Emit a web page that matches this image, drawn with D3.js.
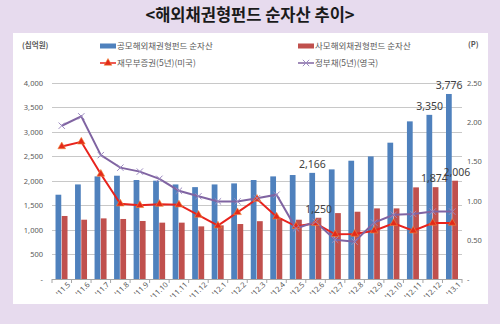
<!DOCTYPE html>
<html><head><meta charset="utf-8">
<script src="https://cdn.jsdelivr.net/npm/d3@7"></script>
<style>
html,body{margin:0;padding:0;background:#E7DBEE;}
svg{display:block;font-family:"Noto Sans CJK KR","Noto Sans",sans-serif;}
</style></head>
<body>
<svg id="c" width="500" height="324"></svg>
<script>
const categories = ["'11.5","'11.6","'11.7","'11.8","'11.9","'11.10","'11.11","'11.12","'12.1","'12.2","'12.3","'12.4","'12.5","'12.6","'12.7","'12.8","'12.9","'12.10","'12.11","'12.12","'13.1"];
const publicFund = [1720,1930,2094,2108,2020,2006,1930,1875,1930,1951,2020,2094,2122,2166,2237,2414,2502,2782,3217,3350,3776];
const privateFund = [1286,1210,1237,1225,1184,1150,1150,1074,1095,1122,1180,1235,1210,1250,1345,1373,1441,1441,1870,1874,2006];
const usTreasury5y = [1.69,1.75,1.34,0.96,0.94,0.955,0.948,0.816,0.68,0.85,1.02,0.795,0.672,0.71,0.57,0.574,0.616,0.71,0.616,0.714,0.714];
const ukGilt5y = [1.955,2.075,1.58,1.42,1.37,1.278,1.126,1.055,0.99,0.99,1.03,1.075,0.645,0.73,0.5,0.476,0.72,0.82,0.83,0.86,0.86];
const leftTicks = [0,500,1000,1500,2000,2500,3000,3500,4000];
const rightTicks = [0,0.5,1.0,1.5,2.0,2.5];
const labeled = [
  {series:"public", cat:"'12.6"},{series:"public", cat:"'12.12"},{series:"public", cat:"'13.1"},
  {series:"private", cat:"'12.6"},{series:"private", cat:"'12.12"},{series:"private", cat:"'13.1"}
];
const names = ["공모해외채권형펀드 순자산","사모해외채권형펀드 순자산","재무부증권(5년)(미국)","정부채(5년)(영국)"];

const C = {blue:"#4F81BD", red:"#C0504D", line:"#E8231D", purple:"#8064A2", grid:"#C8C8C8", text:"#595959"};
const svg = d3.select("#c");

// panel
svg.append("rect").attr("x",13).attr("y",33).attr("width",475).attr("height",271).attr("fill","#fff");
svg.append("text").attr("x",250).attr("y",21).attr("text-anchor","middle")
  .attr("font-size",16.5).attr("font-weight","bold").attr("fill","#1a1a1a").text("<해외채권형펀드 순자산 추이>");

const x = d3.scaleBand().domain(categories).range([52,462]).paddingInner(0.36).paddingOuter(0.18);
const xs = d3.scaleBand().domain(["public","private"]).range([0,x.bandwidth()]);
const yL = d3.scaleLinear().domain([0,4000]).range([279,83]);
const yR = d3.scaleLinear().domain([0,2.5]).range([279,83]);

// grid
svg.append("g").selectAll("line").data(leftTicks.filter(d=>d>0)).join("line")
  .attr("x1",52).attr("x2",462).attr("y1",d=>yL(d)).attr("y2",d=>yL(d))
  .attr("stroke",C.grid).attr("stroke-width",1).attr("shape-rendering","crispEdges");

// left axis
const gl = svg.append("g").attr("transform","translate(52,0)")
  .call(d3.axisLeft(yL).tickValues(leftTicks).tickSize(0).tickPadding(9)
    .tickFormat(d=>d===0?"-":d3.format(",")(d)));
gl.select(".domain").remove();
gl.selectAll("text").attr("font-size",7.5).attr("fill",C.text).attr("font-family","Noto Sans, sans-serif");

// right axis
const gr = svg.append("g").attr("transform","translate(462,0)")
  .call(d3.axisRight(yR).tickValues(rightTicks).tickSize(0).tickPadding(5)
    .tickFormat(d=>d===0?"-":d3.format(".2f")(d)));
gr.select(".domain").remove();
gr.selectAll("text").attr("font-size",7.5).attr("fill",C.text).attr("font-family","Noto Sans, sans-serif");

// bars
const bars = svg.append("g");
bars.selectAll(".pb").data(categories).join("rect")
  .attr("x",(d)=>x(d)+xs("public")).attr("width",xs.bandwidth()-0.5)
  .attr("y",(d,i)=>yL(publicFund[i])).attr("height",(d,i)=>yL(0)-yL(publicFund[i])).attr("fill",C.blue);
bars.selectAll(".rb").data(categories).join("rect").attr("class","rb")
  .attr("x",(d)=>x(d)+xs("private")).attr("width",xs.bandwidth()-0.5)
  .attr("y",(d,i)=>yL(privateFund[i])).attr("height",(d,i)=>yL(0)-yL(privateFund[i])).attr("fill",C.red);

// x axis
const gx = svg.append("g").attr("transform","translate(0,279)")
  .call(d3.axisBottom(x).tickSize(0).tickPadding(6));
gx.select(".domain").attr("stroke","#A6A6A6").attr("d","M52,0.5H462");
gx.selectAll(".tick text").attr("font-size",7.5).attr("fill",C.text).attr("font-family","Noto Sans, sans-serif")
  .attr("text-anchor","end").attr("dy","0.35em").attr("transform","translate(3,0) rotate(-45)");
// small tick marks between categories
svg.append("g").selectAll("line").data(categories.concat(["end"])).join("line")
  .attr("x1",(d,i)=>i<categories.length? x(d)-x.step()*x.paddingInner()/2 : x(categories[categories.length-1])+x.bandwidth()+x.step()*x.paddingInner()/2)
  .attr("x2",function(){return d3.select(this).attr("x1");})
  .attr("y1",279).attr("y2",283).attr("stroke","#A6A6A6");

// lines
const centre = d=>x(d)+x.bandwidth()/2;
const lineUS = d3.line().x((d,i)=>centre(categories[i])).y(d=>yR(d));
svg.append("path").datum(usTreasury5y).attr("d",lineUS).attr("fill","none").attr("stroke",C.line).attr("stroke-width",2);
svg.append("path").datum(ukGilt5y).attr("d",lineUS).attr("fill","none").attr("stroke",C.purple).attr("stroke-width",2);

const tri = d3.symbol().type(d3.symbolTriangle).size(26);
svg.append("g").selectAll("path").data(usTreasury5y).join("path")
  .attr("d",tri).attr("transform",(d,i)=>`translate(${centre(categories[i])},${yR(d)})`)
  .attr("fill","#E32A1A").attr("stroke","#F08A3C").attr("stroke-width",0.6);
const cross = d3.symbol().type(d3.symbolX).size(28);
svg.append("g").selectAll("path").data(ukGilt5y).join("path")
  .attr("d",cross).attr("transform",(d,i)=>`translate(${centre(categories[i])},${yR(d)})`)
  .attr("fill","none").attr("stroke","#9C8AC0").attr("stroke-width",1);

// data labels
svg.append("g").selectAll("text").data(labeled).join("text")
  .attr("x",d=>x(d.cat)+xs(d.series)+xs.bandwidth()/2 + (d.cat==="'12.12"&&d.series==="private"?-1.5:0) + (d.cat==="'13.1"&&d.series==="private"?1.5:0))
  .attr("y",d=>{const i=categories.indexOf(d.cat);return yL(d.series==="public"?publicFund[i]:privateFund[i])-5;})
  .attr("text-anchor","middle").attr("font-size",10.5).attr("fill","#404040").attr("font-family","Noto Sans, sans-serif")
  .text(d=>{const i=categories.indexOf(d.cat);return d3.format(",")(d.series==="public"?publicFund[i]:privateFund[i]);});

// units
svg.append("text").attr("x",22).attr("y",48).attr("font-size",7.5).attr("font-weight","bold").attr("fill",C.text).text("(십억원)");
svg.append("text").attr("x",468).attr("y",47).attr("font-size",7.5).attr("font-weight","bold").attr("fill",C.text).text("(P)");

// legend
const leg = [
  {x:100,y:46,type:"bar",color:C.blue,name:names[0]},
  {x:298,y:46,type:"bar",color:C.red,name:names[1]},
  {x:100,y:63,type:"tri",color:C.line,name:names[2]},
  {x:298,y:63,type:"x",color:C.purple,name:names[3]}
];
const lg = svg.append("g").selectAll("g").data(leg).join("g").attr("transform",d=>`translate(${d.x},${d.y})`);
lg.filter(d=>d.type==="bar").append("rect").attr("x",0).attr("y",-2.5).attr("width",16).attr("height",5).attr("fill",d=>d.color);
lg.filter(d=>d.type!=="bar").append("line").attr("x1",0).attr("x2",16).attr("y1",0).attr("y2",0).attr("stroke",d=>d.color).attr("stroke-width",1.5);
lg.filter(d=>d.type==="tri").append("path").attr("d",tri).attr("transform","translate(8,0)").attr("fill","#E32A1A").attr("stroke","#F08A3C").attr("stroke-width",0.6);
lg.filter(d=>d.type==="x").append("path").attr("d",cross).attr("transform","translate(8,0)").attr("fill","none").attr("stroke","#9C8AC0");
lg.append("text").attr("x",17).attr("y",0).attr("dy","0.35em").attr("font-size",8.5).attr("fill",C.text).text(d=>d.name);
</script>
</body></html>
